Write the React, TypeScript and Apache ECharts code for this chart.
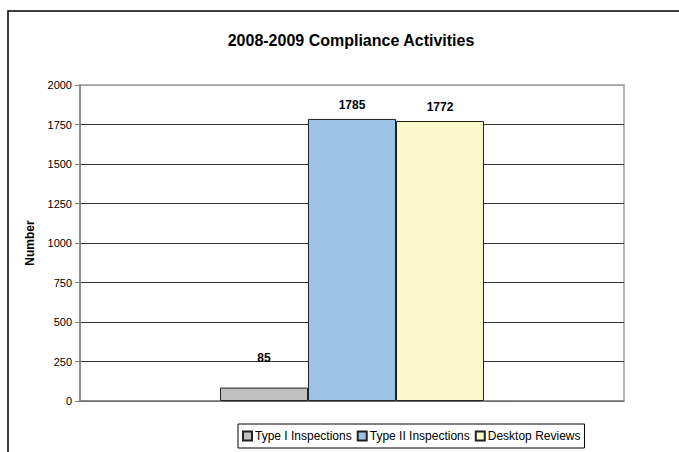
import React, { useEffect, useRef } from "react";
import * as echarts from "echarts";

const categories = ["2008-2009"];
const seriesNames = ["Type I Inspections", "Type II Inspections", "Desktop Reviews"];
const typeI = [85];
const typeII = [1785];
const desktop = [1772];
const yTicks = [0, 250, 500, 750, 1000, 1250, 1500, 1750, 2000];

const colors = ["#C0C0C0", "#9DC3E6", "#FBF8CC"];

export default function App() {
  const ref = useRef<HTMLDivElement>(null);
  useEffect(() => {
    document.body.style.margin = "0";
    const chart = echarts.init(ref.current!, undefined, { renderer: "svg" });
    const font = "Arial, 'Liberation Sans', sans-serif";
    const mk = (name: string, data: number[], i: number, dist: number) => ({
      name,
      type: "bar",
      data,
      barWidth: 88,
      barGap: "0%",
      itemStyle: { color: colors[i], borderColor: "#222", borderWidth: 1 },
      label: {
        show: true,
        position: "top",
        distance: dist,
        fontFamily: font,
        fontWeight: "bold",
        fontSize: 12,
        color: "#000",
      },
    });
    const gridColors = yTicks.map((_, i) => (i === yTicks.length - 1 ? "#A0A0A0" : "#333333"));
    chart.setOption({
      animation: false,
      textStyle: { fontFamily: font },
      title: {
        text: "2008-2009 Compliance Activities",
        left: 346,
        textAlign: "center",
        top: 27,
        textStyle: { fontFamily: font, fontWeight: "bold", fontSize: 16, color: "#000" },
      },
      graphic: [
        {
          type: "rect",
          shape: { x: 8, y: 11, width: 720, height: 480 },
          style: { fill: "none", stroke: "#000", lineWidth: 1.5 },
          silent: true,
        },
      ],
      legend: {
        data: seriesNames,
        left: 238,
        top: 424,
        itemWidth: 9,
        itemHeight: 9,
        itemGap: 5,
        icon: "rect",
        padding: [6, 4, 6, 4],
        borderColor: "#000",
        borderWidth: 1,
        textStyle: { fontFamily: font, fontSize: 12, color: "#000", padding: [0, 0, 0, -2] },
      },
      grid: {
        left: 80,
        right: 55,
        top: 85,
        bottom: 51,
        show: true,
        borderColor: "#A0A0A0",
        borderWidth: 1.5,
      },
      xAxis: {
        type: "category",
        data: categories,
        axisLine: { lineStyle: { color: "#808080", width: 1.5 } },
        axisTick: { show: false },
        axisLabel: { show: false },
      },
      yAxis: {
        type: "value",
        min: yTicks[0],
        max: yTicks[yTicks.length - 1],
        interval: 250,
        name: "Number",
        nameLocation: "middle",
        nameGap: 44,
        nameTextStyle: { fontFamily: font, fontWeight: "bold", fontSize: 12, color: "#000" },
        axisLine: { show: true, lineStyle: { color: "#808080", width: 1.5 } },
        axisTick: { show: true, length: 5, lineStyle: { color: "#808080" } },
        axisLabel: {
          fontFamily: font,
          fontSize: 11,
          color: "#000",
          margin: 8,
          formatter: (v: number) => String(v),
        },
        splitLine: { lineStyle: { color: gridColors, width: 1 } },
      },
      series: [
        mk(seriesNames[0], typeI, 0, 24),
        mk(seriesNames[1], typeII, 1, 8),
        mk(seriesNames[2], desktop, 2, 8),
      ],
    });
    return () => chart.dispose();
  }, []);
  return <div ref={ref} style={{ width: 679, height: 452 }} />;
}
